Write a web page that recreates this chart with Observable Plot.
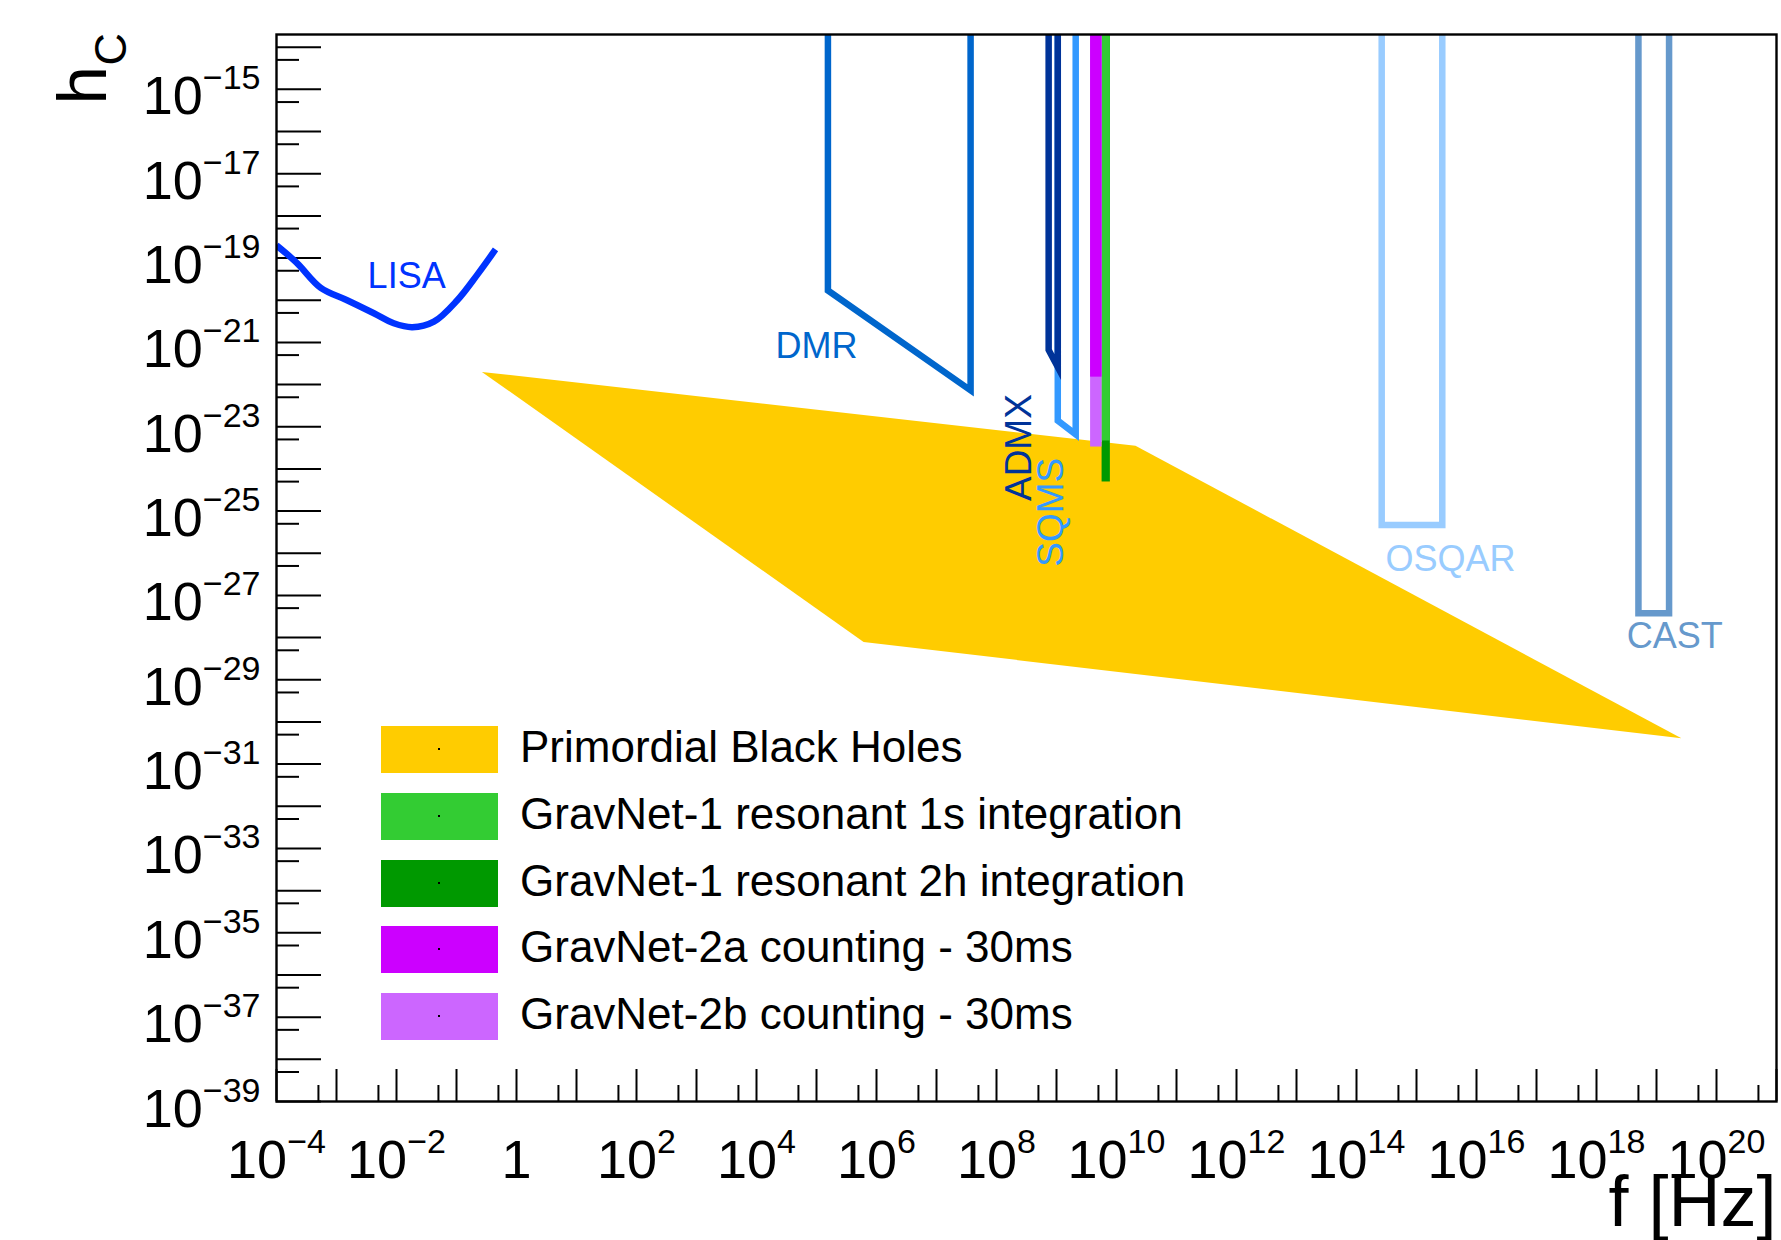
<!DOCTYPE html>
<html>
<head>
<meta charset="utf-8">
<script src="https://cdn.jsdelivr.net/npm/d3@7"></script>
<script src="https://cdn.jsdelivr.net/npm/@observablehq/plot@0.6"></script>
<style>
  html, body { margin: 0; padding: 0; background: #fff; }
  #wrap { position: relative; width: 1781px; height: 1240px; overflow: hidden;
          font-family: "Liberation Sans", Arial, Helvetica, sans-serif; }
  #legend { position: absolute; left: 381px; top: 726px; }
  .row { position: absolute; left: 0; height: 47px; width: 900px; }
  .sw { position: absolute; left: 0; top: 0; width: 117px; height: 47px; }
  .dot { position: absolute; left: 57px; top: 22px; width: 2px; height: 2px; background: #000; }
  .lbl { position: absolute; left: 139px; top: -3px; height: 47px; line-height: 47px;
         font-size: 44px; white-space: nowrap; color: #000; }
</style>
</head>
<body>
<div id="wrap"></div>
<script>
// ---------------- data ----------------
const xTickLabelExps = [-4, -2, 0, 2, 4, 6, 8, 10, 12, 14, 16, 18, 20];
const yTickLabelExps = [-15, -17, -19, -21, -23, -25, -27, -29, -31, -33, -35, -37, -39];
const xDomain = [1e-4, 1e21];
const yDomain = [1e-39, 2e-14];

// LISA sensitivity curve
const lisaF = [1e-4, 2.2e-4, 5.4e-4, 1.5e-3, 4.2e-3, 9.0e-3, 1.83e-2, 4.2e-2, 0.103, 0.221, 0.447];
const lisaH = [2.0e-19, 7.6e-20, 2.0e-20, 1.0e-20, 4.9e-21, 2.85e-21, 2.3e-21, 3.1e-21, 1.0e-20, 4.0e-20, 1.6e-19];

// Primordial black holes region (polygon vertices)
const pbhF = [0.265, 2.07e10, 2.6e19, 6.1e5];
const pbhH = [2.0e-22, 3.55e-24, 4.1e-31, 7.9e-29];

// Exclusion outlines (open at the top)
const hTop = 1e-13;
const dmrF = [1.55e5, 1.55e5, 3.7e7, 3.7e7];
const dmrH = [hTop, 1.7e-20, 7.3e-23, hTop];
const admxF = [7.4e8, 7.4e8, 1.05e9, 1.05e9];
const admxH = [hTop, 6.6e-22, 2.6e-22, hTop];
const sqmsF = [1.05e9, 1.05e9, 2.09e9, 2.09e9];
const sqmsH = [hTop, 1.4e-23, 6.6e-24, hTop];
const osqarF = [2.63e14, 2.63e14, 2.69e15, 2.69e15];
const osqarH = [hTop, 4.7e-26, 4.7e-26, hTop];
const castF = [5.0e18, 5.0e18, 1.62e19, 1.62e19];
const castH = [hTop, 3.8e-28, 3.8e-28, hTop];

// GravNet bands: 1s, 2h, 2a, 2b
const gravnetNames = ["GravNet-1 resonant 1s integration", "GravNet-1 resonant 2h integration",
                      "GravNet-2a counting - 30ms", "GravNet-2b counting - 30ms"];
const gravnetF1 = [5.75e9, 5.75e9, 3.7e9, 3.7e9];
const gravnetF2 = [7.9e9, 7.9e9, 5.75e9, 5.75e9];
const gravnetHmin = [4.6e-24, 4.9e-25, 1.5e-22, 3.3e-24];

// Legend
const legendNames = ["Primordial Black Holes", ...gravnetNames];
const legendColors = ["#ffcc00", "#33cc33", "#009900", "#cc00ff", "#cc66ff"];

// Detector labels
const labelNames = ["LISA", "DMR", "OSQAR", "CAST"];
const labelF = [3.3e-3, 2.07e4, 3.04e14, 3.2e18];
const labelH = [1.95e-20, 4.3e-22, 3.8e-27, 5.6e-29];
const labelColors = ["#0033ff", "#0066cc", "#99ccff", "#6699cc"];
const rotLabelNames = ["ADMX", "SQMS"];
const rotLabelF = [3.79e8, 1.26e9];
const rotLabelH = [1.73e-25, 4.8e-27];
const rotLabelColors = ["#003399", "#3399ff"];

// ---------------- helpers ----------------
const FONT = "'Liberation Sans', Arial, Helvetica, sans-serif";
const ctx = document.createElement("canvas").getContext("2d");
function tw(s, size) { ctx.font = `${size}px "Liberation Sans"`; return ctx.measureText(s).width; }
const MAIN = 54, SUP = 34;
const expStr = e => (e < 0 ? "\u2212" : "") + Math.abs(e);

const xMajor = d3.range(-4, 22).map(e => Math.pow(10, e));
const xMinor = d3.range(-4, 21).map(e => 5 * Math.pow(10, e));
const yMajor = d3.range(-39, -13).map(e => Math.pow(10, e));
const yMinor = d3.range(-39, -14).map(e => 5 * Math.pow(10, e));

const xLabelMarks = xTickLabelExps.flatMap(e => {
  const v = Math.pow(10, e);
  if (e === 0) return [Plot.text([v], {x: d => d, frameAnchor: "bottom", text: () => "1",
    fontSize: MAIN, textAnchor: "middle", lineAnchor: "bottom", dy: 76, fill: "black"})];
  const s = expStr(e);
  const j = (tw("10", MAIN) - tw(s, SUP)) / 2;
  return [
    Plot.text([v], {x: d => d, frameAnchor: "bottom", text: () => "10", fontSize: MAIN,
      textAnchor: "end", lineAnchor: "bottom", dx: j, dy: 76, fill: "black"}),
    Plot.text([v], {x: d => d, frameAnchor: "bottom", text: () => s, fontSize: SUP,
      textAnchor: "start", lineAnchor: "bottom", dx: j, dy: 51, fill: "black"})
  ];
});

const yLabelMarks = yTickLabelExps.flatMap(e => {
  const v = Math.pow(10, e);
  const s = expStr(e);
  const ws = tw(s, SUP);
  return [
    Plot.text([v], {y: d => d, frameAnchor: "left", text: () => "10", fontSize: MAIN,
      textAnchor: "end", lineAnchor: "bottom", dx: -16 - ws, dy: 25, fill: "black"}),
    Plot.text([v], {y: d => d, frameAnchor: "left", text: () => s, fontSize: SUP,
      textAnchor: "end", lineAnchor: "bottom", dx: -16, dy: 0, fill: "black"})
  ];
});

const outline = (F, H, color) => Plot.line(d3.range(F.length), {
  x: i => F[i], y: i => H[i], stroke: color, strokeWidth: 6.5,
  strokeLinejoin: "miter", strokeMiterlimit: 10, strokeLinecap: "butt", clip: true
});

const gravOrder = [1, 0, 3, 2]; // draw 2h, 1s, 2b, 2a

const chart = Plot.plot({
  width: 1781, height: 1240,
  marginLeft: 276, marginRight: 5, marginTop: 34, marginBottom: 139,
  style: {fontFamily: FONT, background: "transparent", overflow: "visible"},
  x: {type: "log", domain: xDomain},
  y: {type: "log", domain: yDomain},
  color: {type: "identity"},
  marks: [
    Plot.axisY(yMajor, {anchor: "left", tickSize: -45, tickFormat: () => "", label: null, strokeWidth: 2}),
    Plot.axisY(yMinor, {anchor: "left", tickSize: -23, tickFormat: () => "", label: null, strokeWidth: 2}),
    Plot.axisX(xMajor, {anchor: "bottom", tickSize: -32, tickFormat: () => "", label: null, strokeWidth: 2}),
    Plot.axisX(xMinor, {anchor: "bottom", tickSize: -16, tickFormat: () => "", label: null, strokeWidth: 2}),
    // PBH polygon
    Plot.line(d3.range(pbhF.length), {x: i => pbhF[i], y: i => pbhH[i], fill: legendColors[0],
      stroke: "none", clip: true}),
    // LISA
    Plot.line(d3.range(lisaF.length), {x: i => lisaF[i], y: i => lisaH[i], stroke: "#0033ff",
      strokeWidth: 6.5, curve: "catmull-rom", strokeLinecap: "butt", clip: true}),
    outline(dmrF, dmrH, "#0066cc"),
    outline(sqmsF, sqmsH, "#3399ff"),
    outline(admxF, admxH, "#003399"),
    outline(osqarF, osqarH, "#99ccff"),
    outline(castF, castH, "#6699cc"),
    // GravNet bands
    Plot.rect(gravOrder, {x1: i => gravnetF1[i], x2: i => gravnetF2[i],
      y1: i => gravnetHmin[i], y2: () => hTop, fill: i => legendColors[i + 1], clip: true}),
    // labels
    ...labelNames.map((n, i) => Plot.text([n], {x: () => labelF[i], y: () => labelH[i], text: d => d,
      fill: labelColors[i], fontSize: 36, textAnchor: "start", lineAnchor: "bottom"})),
    ...rotLabelNames.map((n, i) => Plot.text([n], {x: () => rotLabelF[i], y: () => rotLabelH[i], text: d => d,
      fill: rotLabelColors[i], fontSize: 37, textAnchor: "start", lineAnchor: "bottom", rotate: -90})),
    // tick labels
    ...xLabelMarks,
    ...yLabelMarks,
    // axis titles
    Plot.text(["h"], {frameAnchor: "top-left", text: d => d, rotate: -90, textAnchor: "start",
      lineAnchor: "bottom", fontSize: 69, dx: -171, dy: 70, fill: "black"}),
    Plot.text(["C"], {frameAnchor: "top-left", text: d => d, rotate: -90, textAnchor: "start",
      lineAnchor: "bottom", fontSize: 45, dx: -151, dy: 31, fill: "black"}),
    Plot.text(["f [Hz]"], {frameAnchor: "bottom-right", text: d => d, textAnchor: "end",
      lineAnchor: "bottom", fontSize: 72, dy: 124, fill: "black"}),
    Plot.frame({stroke: "black", strokeWidth: 2.4})
  ]
});

const wrap = document.getElementById("wrap");
wrap.appendChild(chart);

// legend (inside the frame, as in the reference)
const legend = document.createElement("div");
legend.id = "legend";
legendNames.forEach((name, i) => {
  const row = document.createElement("div");
  row.className = "row";
  row.style.top = (i * 66.75) + "px";
  const sw = document.createElement("div");
  sw.className = "sw";
  sw.style.background = legendColors[i];
  const dot = document.createElement("div");
  dot.className = "dot";
  sw.appendChild(dot);
  const lbl = document.createElement("div");
  lbl.className = "lbl";
  lbl.textContent = name;
  row.appendChild(sw);
  row.appendChild(lbl);
  legend.appendChild(row);
});
wrap.appendChild(legend);
</script>
</body>
</html>
